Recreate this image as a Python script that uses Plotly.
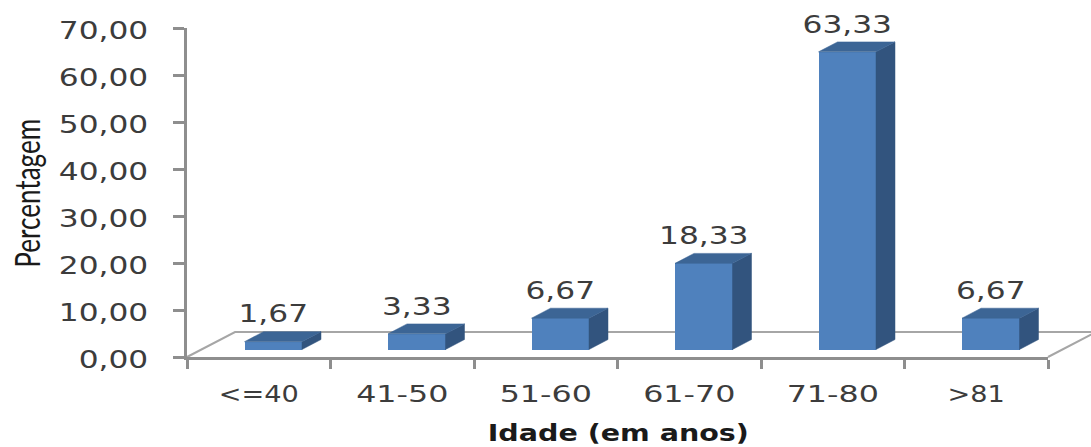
import plotly.graph_objects as go

# Age-group distribution drawn as pseudo-3D columns
categories = ["<=40", "41-50", "51-60", "61-70", "71-80", ">81"]
percentages = [1.67, 3.33, 6.67, 18.33, 63.33, 6.67]
value_labels = ["1,67", "3,33", "6,67", "18,33", "63,33", "6,67"]
y_ticks = [0, 10, 20, 30, 40, 50, 60, 70]
y_tick_labels = ["0,00", "10,00", "20,00", "30,00", "40,00", "50,00", "60,00", "70,00"]

WIDTH, HEIGHT = 1091, 447
PLOT_L, PLOT_R, PLOT_T, PLOT_B = 187, 1048, 28, 357.5
PLOT_W, PLOT_H = PLOT_R - PLOT_L, PLOT_B - PLOT_T
X_UNIT = PLOT_W / 6       # pixels per category
Y_UNIT = PLOT_H / 70      # pixels per percentage point

FRONT, SIDE, TOP = "#4f81bd", "#32547e", "#3c6595"
AXIS = "#8e8e8e"
TEXT = "#3c3c3c"
FONT = "DejaVu Sans"

# Column depth and placement, in axis units
BAR_DX, BAR_DY = 19 / X_UNIT, 10 / Y_UNIT
BAR_SHIFT = 14.5 / X_UNIT
BAR_W = 57.5 / X_UNIT
BAR_BASE = 7.5 / Y_UNIT
LABEL_LIFT = 3 / Y_UNIT

# Floor parallelogram in paper fractions
FLOOR_DX, FLOOR_DY = 48 / PLOT_W, 25 / PLOT_H

positions = list(range(len(categories)))
x0, x1 = -0.5, len(categories) - 0.5

fig = go.Figure()

# Side and top faces built from each column's value
side_x, side_y, top_x, top_y = [], [], [], []
for p, v in zip(positions, percentages):
    left = p + BAR_SHIFT - BAR_W / 2
    right = p + BAR_SHIFT + BAR_W / 2
    high = BAR_BASE + v
    side_x += [right, right + BAR_DX, right + BAR_DX, right, right, None]
    side_y += [BAR_BASE, BAR_BASE + BAR_DY, high + BAR_DY, high, BAR_BASE, None]
    top_x += [left, left + BAR_DX, right + BAR_DX, right, left, None]
    top_y += [high, high + BAR_DY, high + BAR_DY, high, high, None]

fig.add_trace(go.Scatter(
    x=side_x, y=side_y, mode="lines", fill="toself", fillcolor=SIDE,
    line=dict(color=SIDE, width=0.5), hoverinfo="skip", showlegend=False,
))
fig.add_trace(go.Scatter(
    x=top_x, y=top_y, mode="lines", fill="toself", fillcolor=TOP,
    line=dict(color=TOP, width=0.5), hoverinfo="skip", showlegend=False,
))

# Front faces
fig.add_trace(go.Bar(
    x=[p + BAR_SHIFT for p in positions], y=percentages, base=BAR_BASE,
    width=BAR_W, marker=dict(color=FRONT, line=dict(width=0)),
    showlegend=False,
))

# Value labels above each column
fig.add_trace(go.Scatter(
    x=[p + BAR_SHIFT for p in positions],
    y=[BAR_BASE + v + BAR_DY + LABEL_LIFT for v in percentages],
    text=value_labels, mode="text", textposition="top center",
    textfont=dict(family=FONT, size=25, color=TEXT),
    cliponaxis=False, hoverinfo="skip", showlegend=False,
))

fig.update_layout(
    width=WIDTH, height=HEIGHT,
    margin=dict(l=PLOT_L, r=WIDTH - PLOT_R, t=PLOT_T, b=HEIGHT - PLOT_B, autoexpand=False),
    paper_bgcolor="white", plot_bgcolor="rgba(0,0,0,0)",
    bargap=0,
    shapes=[dict(
        type="path", xref="paper", yref="paper", layer="below",
        path=f"M 0 0 L {FLOOR_DX} {FLOOR_DY} L {1 + FLOOR_DX} {FLOOR_DY} L 1 0",
        line=dict(color="#a6a6a6", width=2),
    )],
    annotations=[
        dict(text="Percentagem", textangle=-90, xref="paper", yref="paper",
             x=(26 - PLOT_L) / PLOT_W,
             y=(PLOT_B - 193.5) / PLOT_H,
             xanchor="center", yanchor="middle", showarrow=False,
             font=dict(family="Lato", size=35, color="#1a1a1a")),
        dict(text="<b>Idade (em anos)</b>", xref="paper", yref="paper",
             x=(618 - PLOT_L) / PLOT_W,
             y=(PLOT_B - 434) / PLOT_H,
             xanchor="center", yanchor="middle", showarrow=False,
             font=dict(family=FONT, size=23, color="#1a1a1a")),
    ],
)
fig.update_xaxes(
    range=[x0, x1], tickmode="array", tickvals=positions, ticktext=categories,
    ticks="", showgrid=False, zeroline=False, showline=True,
    linecolor=AXIS, linewidth=2.5, ticklabelstandoff=15,
    tickfont=dict(family=FONT, size=23, color=TEXT),
    minor=dict(tickmode="linear", tick0=-0.5, dtick=1, ticks="outside",
               ticklen=9, tickwidth=2.5, tickcolor=AXIS, showgrid=False),
)
fig.update_yaxes(
    range=[0, 70], tickmode="array", tickvals=y_ticks, ticktext=y_tick_labels,
    ticks="outside", ticklen=11, tickwidth=2.5, tickcolor=AXIS,
    showgrid=False, zeroline=False, showline=True,
    linecolor=AXIS, linewidth=2.5, ticklabelstandoff=20,
    tickfont=dict(family=FONT, size=25, color=TEXT),
)

# The labels are set in wide-proportioned lettering: stretch each text run horizontally
STRETCH_JS = """
var gd = document.getElementById('{plot_id}');
function stretch(sel, k, dy) {
  gd.querySelectorAll(sel).forEach(function (t) {
    var f = typeof k === 'function' ? k(t.textContent) : k;
    t.setAttribute('textLength', t.getComputedTextLength() * f);
    t.setAttribute('lengthAdjust', 'spacingAndGlyphs');
    if (dy) t.setAttribute('dy', dy);
  });
}
stretch('.ytick text', 1.25, 2);
stretch('.xtick text', function (s) { return /^[<>]/.test(s) ? 1.18 : 1.38; });
stretch('.textpoint text', 1.25);
stretch('.annotation-text', function (s) { return s.indexOf('Idade') === 0 ? 1.24 : 0.745; });
"""

fig.write_html("out.html", config=dict(displayModeBar=False), post_script=STRETCH_JS)
